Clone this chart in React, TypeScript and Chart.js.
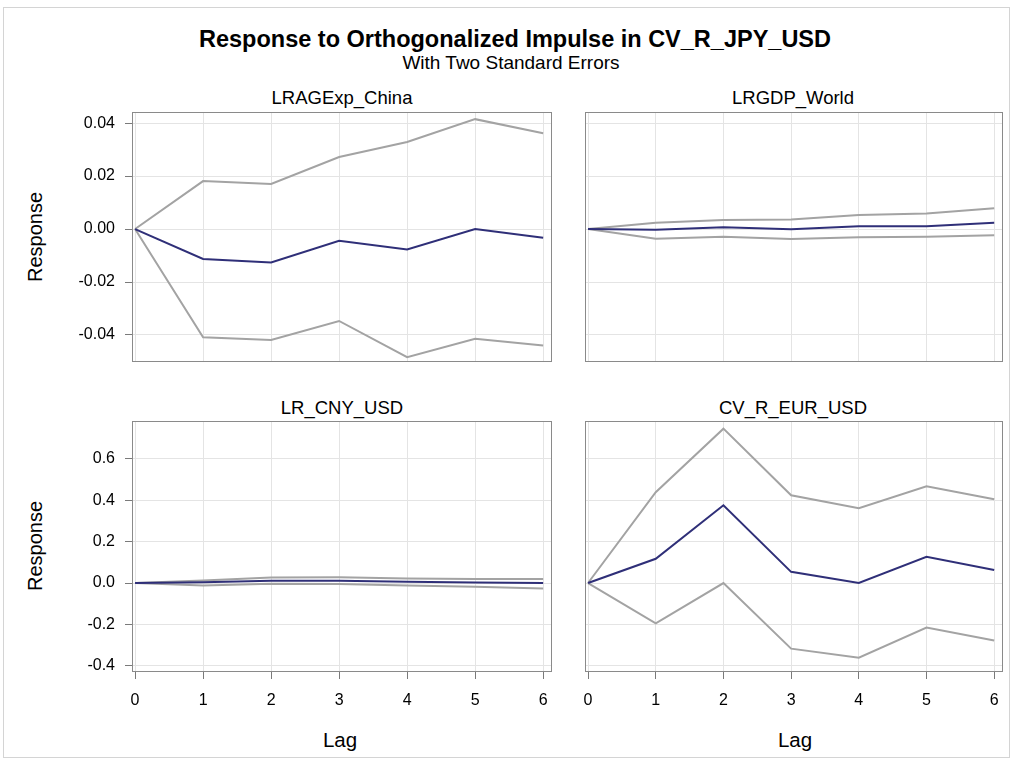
import React, { useEffect, useRef } from "react";
import { Chart, registerables } from "chart.js";

Chart.register(...registerables);

// ---------- data ----------
const LAGS = [0, 1, 2, 3, 4, 5, 6];

const CHINA_RESPONSE = [0, -0.0113, -0.0126, -0.0044, -0.0077, 0.0, -0.0033];
const CHINA_UPPER = [0, 0.0181, 0.017, 0.0272, 0.0329, 0.0415, 0.0362];
const CHINA_LOWER = [0, -0.0409, -0.0419, -0.0347, -0.0484, -0.0414, -0.044];

const WORLD_RESPONSE = [0, -0.0003, 0.0007, -0.0001, 0.0011, 0.0011, 0.0024];
const WORLD_UPPER = [0, 0.0024, 0.0034, 0.0036, 0.0053, 0.0059, 0.0079];
const WORLD_LOWER = [0, -0.0037, -0.0029, -0.0038, -0.0031, -0.0029, -0.0023];

const CNY_RESPONSE = [0, 0.004, 0.011, 0.011, 0.006, 0.002, 0.0];
const CNY_UPPER = [0, 0.012, 0.027, 0.028, 0.022, 0.02, 0.02];
const CNY_LOWER = [0, -0.012, -0.004, -0.005, -0.012, -0.018, -0.026];

const EUR_RESPONSE = [0, 0.117, 0.376, 0.054, 0.0, 0.127, 0.063];
const EUR_UPPER = [0, 0.439, 0.746, 0.424, 0.361, 0.468, 0.405];
const EUR_LOWER = [0, -0.195, 0.0, -0.317, -0.361, -0.215, -0.278];

const TOP_Y_TICKS = [-0.04, -0.02, 0.0, 0.02, 0.04];
const BOTTOM_Y_TICKS = [-0.4, -0.2, 0.0, 0.2, 0.4, 0.6];

const TITLE = "Response to Orthogonalized Impulse in CV_R_JPY_USD";
const SUBTITLE = "With Two Standard Errors";
const PANEL_TITLES = ["LRAGExp_China", "LRGDP_World", "LR_CNY_USD", "CV_R_EUR_USD"];
const Y_TITLE = "Response";
const X_TITLE = "Lag";

// ---------- styles ----------
const FONT = "'Liberation Sans', Arial, Helvetica, sans-serif";
const RESPONSE_COLOR = "#2f2f78";
const BAND_COLOR = "#a3a3a3";
const GRID_COLOR = "#e4e4e4";
const FRAME_COLOR = "#8a8a8a";
const TICK_COLOR = "#7a7a7a";

const framePlugin = {
  id: "frame",
  afterDraw(chart: any) {
    const { ctx, chartArea: a } = chart;
    ctx.save();
    ctx.strokeStyle = FRAME_COLOR;
    ctx.lineWidth = 1;
    ctx.strokeRect(
      Math.round(a.left) + 0.5,
      Math.round(a.top) + 0.5,
      Math.round(a.right - a.left) - 1,
      Math.round(a.bottom - a.top) - 1
    );
    ctx.restore();
  },
};

const noPad = (s: any) => {
  s.paddingTop = 0;
  s.paddingBottom = 0;
  s.paddingLeft = 0;
  s.paddingRight = 0;
};

type PanelProps = {
  rect: [number, number, number, number]; // plot left, top, right, bottom
  response: number[];
  upper: number[];
  lower: number[];
  yTicks: number[];
  decimals: number;
  yMin: number;
  yMax: number;
  showY: boolean;
  showX: boolean;
};

function Panel(p: PanelProps) {
  const ref = useRef<HTMLCanvasElement | null>(null);
  const [L, T, R, B] = p.rect;
  const yW = p.showY ? 72 : 6;
  const xH = p.showX ? 50 : 6;
  const padTop = 4;
  const padRight = 4;
  const W = yW + (R - L) + padRight;
  const H = padTop + (B - T) + xH;

  useEffect(() => {
    const toPts = (arr: number[]) => LAGS.map((l, i) => ({ x: l, y: arr[i] }));
    const chart = new Chart(ref.current as HTMLCanvasElement, {
      type: "line",
      data: {
        datasets: [
          { data: toPts(p.response), borderColor: RESPONSE_COLOR, borderWidth: 2, pointRadius: 0, tension: 0 },
          { data: toPts(p.upper), borderColor: BAND_COLOR, borderWidth: 2, pointRadius: 0, tension: 0 },
          { data: toPts(p.lower), borderColor: BAND_COLOR, borderWidth: 2, pointRadius: 0, tension: 0 },
        ],
      },
      options: {
        animation: false,
        responsive: false,
        devicePixelRatio: 1,
        layout: { padding: { top: padTop, right: padRight, left: 0, bottom: 0 } },
        plugins: { legend: { display: false }, tooltip: { enabled: false }, title: { display: false } },
        scales: {
          x: {
            type: "linear",
            min: -0.045,
            max: 6.13,
            afterBuildTicks: (s: any) => {
              s.ticks = LAGS.map((v) => ({ value: v }));
            },
            afterFit: (s: any) => {
              s.height = xH;
              noPad(s);
            },
            ticks: {
              display: p.showX,
              autoSkip: false,
              maxRotation: 0,
              padding: 12,
              color: "#000",
              font: { family: FONT, size: 16 },
              callback: (v: any) => String(v),
            },
            grid: { color: GRID_COLOR, tickColor: TICK_COLOR, tickLength: 7, drawTicks: p.showX },
            border: { display: false },
          },
          y: {
            type: "linear",
            min: p.yMin,
            max: p.yMax,
            afterBuildTicks: (s: any) => {
              s.ticks = p.yTicks.map((v) => ({ value: v }));
            },
            afterFit: (s: any) => {
              s.width = yW;
              noPad(s);
            },
            ticks: {
              display: p.showY,
              padding: 10,
              color: "#000",
              font: { family: FONT, size: 16 },
              callback: (v: any) => Number(v).toFixed(p.decimals),
            },
            grid: { color: GRID_COLOR, tickColor: TICK_COLOR, tickLength: 7, drawTicks: p.showY },
            border: { display: false },
          },
        },
      },
      plugins: [framePlugin],
    } as any);
    return () => chart.destroy();
  }, []);

  return (
    <canvas
      ref={ref}
      width={W}
      height={H}
      style={{ position: "absolute", left: L - yW, top: T - padTop, width: W, height: H }}
    />
  );
}

const textStyle = (x: number, y: number, size: number, bold = false, rotate = false): React.CSSProperties => ({
  position: "absolute",
  left: x,
  top: y,
  transform: `translate(-50%, -50%)${rotate ? " rotate(-90deg)" : ""}`,
  fontFamily: FONT,
  fontSize: size,
  fontWeight: bold ? "bold" : "normal",
  color: "#000",
  whiteSpace: "nowrap",
  lineHeight: 1,
});

export default function App() {
  const TOP_MIN = -0.0502;
  const TOP_MAX = 0.0442;
  const BOT_MIN = -0.43;
  const BOT_MAX = 0.783;
  return (
    <div style={{ position: "absolute", left: 0, top: 0, width: 1013, height: 763, background: "#fff", overflow: "hidden" }}>
      <div style={{ position: "absolute", left: 3, top: 7, width: 1005, height: 749, border: "1px solid #d4d4d4" }} />
      <div style={textStyle(515, 40, 23.5, true)}>{TITLE}</div>
      <div style={textStyle(511, 62, 19)}>{SUBTITLE}</div>
      <div style={textStyle(342, 98, 18.5)}>{PANEL_TITLES[0]}</div>
      <div style={textStyle(793, 98, 18.5)}>{PANEL_TITLES[1]}</div>
      <div style={textStyle(342, 408, 18.5)}>{PANEL_TITLES[2]}</div>
      <div style={textStyle(793, 408, 18.5)}>{PANEL_TITLES[3]}</div>
      <div style={textStyle(35, 237, 20, false, true)}>{Y_TITLE}</div>
      <div style={textStyle(35, 546, 20, false, true)}>{Y_TITLE}</div>
      <div style={textStyle(340, 740, 20.5)}>{X_TITLE}</div>
      <div style={textStyle(795, 740, 20.5)}>{X_TITLE}</div>

      <Panel rect={[132, 112, 552, 362]} response={CHINA_RESPONSE} upper={CHINA_UPPER} lower={CHINA_LOWER}
        yTicks={TOP_Y_TICKS} decimals={2} yMin={TOP_MIN} yMax={TOP_MAX} showY={true} showX={false} />
      <Panel rect={[585, 112, 1003, 362]} response={WORLD_RESPONSE} upper={WORLD_UPPER} lower={WORLD_LOWER}
        yTicks={TOP_Y_TICKS} decimals={2} yMin={TOP_MIN} yMax={TOP_MAX} showY={false} showX={false} />
      <Panel rect={[132, 421, 552, 672]} response={CNY_RESPONSE} upper={CNY_UPPER} lower={CNY_LOWER}
        yTicks={BOTTOM_Y_TICKS} decimals={1} yMin={BOT_MIN} yMax={BOT_MAX} showY={true} showX={true} />
      <Panel rect={[585, 421, 1003, 672]} response={EUR_RESPONSE} upper={EUR_UPPER} lower={EUR_LOWER}
        yTicks={BOTTOM_Y_TICKS} decimals={1} yMin={BOT_MIN} yMax={BOT_MAX} showY={false} showX={true} />
    </div>
  );
}
